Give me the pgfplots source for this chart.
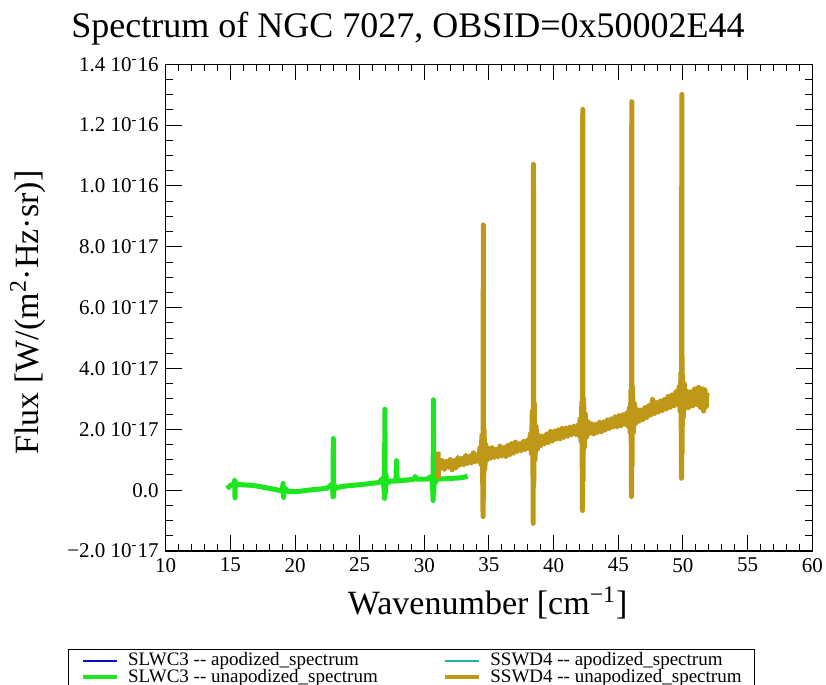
\documentclass[border=0pt]{standalone}
\usepackage{fontspec}
\setmainfont{Liberation Serif}
\usepackage{pgfplots}
\pgfplotsset{compat=1.18}
\definecolor{slwapo}{RGB}{10,10,200}
\definecolor{slwun}{RGB}{30,230,30}
\definecolor{sswapo}{RGB}{32,178,170}
\definecolor{sswun}{RGB}{192,152,24}
\newcommand{\ex}[2]{#1 10\textsuperscript{-}#2}
\begin{document}
\begin{tikzpicture}
\useasboundingbox (0,0) rectangle (413pt,-342.5pt);
\node[anchor=base, font=\fontsize{18}{20}\selectfont] at (204pt,-19pt) {Spectrum of NGC 7027, OBSID=0x50002E44};
\begin{axis}[
  at={(82.85pt,-275.5pt)}, anchor=south west,
  scale only axis, width=323.3pt, height=243.35pt,
  xmin=10, xmax=60, ymin=-2, ymax=14,
  xtick={10,15,...,60}, minor x tick num=4,
  ytick={-2,0,...,14}, minor y tick num=3,
  yticklabels={\ex{−2.0}{17},0.0,\ex{2.0}{17},\ex{4.0}{17},\ex{6.0}{17},\ex{8.0}{17},\ex{1.0}{16},\ex{1.2}{16},\ex{1.4}{16}},
  /pgf/number format/assume math mode=true,
  tick align=inside,
  major tick length=8pt, minor tick length=3.5pt,
  tick style={black, line width=0.5pt},
  axis line style={black, line width=0.6pt},
  ticklabel style={font=\fontsize{10.5}{12}\selectfont},
  xlabel={Wavenumber [cm\textsuperscript{−1}]},
  ylabel={Flux [W/(m\textsuperscript{2}·Hz·sr)]},
  every axis x label/.style={at={(axis description cs:0.498,-0.107)}, anchor=center, font=\fontsize{17}{19}\selectfont},
  every axis y label/.style={at={(axis description cs:-0.213,0.49)}, rotate=90, anchor=center, font=\fontsize{17}{19}\selectfont},
  legend columns=2, transpose legend,
  legend style={at={(axis description cs:-0.151,-0.202)}, anchor=north west, draw=black, line width=0.5pt,
    font=\fontsize{9.5}{9.5}\selectfont, inner xsep=6pt, inner ysep=1pt, row sep=-1pt,
    nodes={inner sep=0.5pt},
    /tikz/every odd column/.append style={column sep=4pt},
    /tikz/every even column/.append style={column sep=32pt}},
  legend cell align=left,
]
\addlegendimage{slwapo, line width=1pt}
\addlegendentry{SLWC3 -{}- apodized\_spectrum}
\addlegendimage{slwun, line width=2.2pt}
\addlegendentry{SLWC3 -{}- unapodized\_spectrum}
\addlegendimage{sswapo, line width=1pt}
\addlegendentry{SSWD4 -{}- apodized\_spectrum}
\addlegendimage{sswun, line width=2.2pt}
\addlegendentry{SSWD4 -{}- unapodized\_spectrum}
% SLWC3 unapodized (flux in units of 1e-17 W/(m2 Hz sr))
\addplot[slwun, line width=2.5pt, line join=round, forget plot] coordinates {
(14.75,0.05) (14.9,0.12) (15.1,0.18) (15.3,0.2) (15.33,0.32) (15.36,-0.25) (15.39,0.28) (15.5,0.2)
(15.8,0.18) (16.2,0.17) (16.6,0.16) (17.0,0.14) (17.5,0.1) (18.0,0.06) (18.5,0.02) (19.0,-0.03)
(19.08,0.22) (19.12,-0.24) (19.16,0.08) (19.5,-0.05) (20.0,-0.05) (20.5,-0.03) (21.0,0.0) (21.5,0.02)
(22.0,0.04) (22.5,0.07) (22.88,0.2) (22.92,-0.05) (22.94,-0.22) (22.96,1.70) (22.98,-0.2) (23.02,0.2) (23.08,0.05)
(23.5,0.11) (24.0,0.14) (24.5,0.16) (25.0,0.18) (25.5,0.2) (26.0,0.23) (26.5,0.25) (26.8,0.4)
(26.87,0.1) (26.92,-0.27) (26.95,2.66) (26.98,-0.1) (27.03,0.5) (27.1,0.22) (27.4,0.3) (27.8,0.3)
(27.85,0.97) (27.9,0.3) (28.3,0.32) (28.8,0.34) (29.2,0.36) (29.3,0.45) (29.4,0.36) (29.8,0.36)
(30.2,0.36) (30.55,0.45) (30.64,0.1) (30.68,-0.34) (30.7,2.97) (30.73,-0.1) (30.78,0.6) (30.85,0.25) (31.0,0.38)
(31.4,0.37) (31.8,0.38) (32.2,0.39) (32.6,0.4) (33.0,0.42) (33.35,0.46)
};
% SSWD4 unapodized
\addplot[sswun, line width=2.5pt, line join=round, forget plot] coordinates {
(31.06,1.27) (31.08,0.44) (31.15,1.0) (31.25,0.72) (31.4,0.98) (31.55,0.68) (31.7,0.95) (31.85,0.75)
(32.0,1.02) (32.15,0.67) (32.3,0.98) (32.45,0.73) (32.6,1.08) (32.75,0.82) (32.9,1.05) (33.05,0.83)
(33.2,1.15) (33.35,0.87) (33.5,1.13) (33.65,0.89) (33.8,1.23) (33.95,0.93) (34.1,1.18) (34.2,0.95)
(34.3,1.4) (34.38,0.85) (34.45,1.8) (34.51,0.5) (34.54,-0.87) (34.56,8.72) (34.58,-0.3) (34.62,2.0)
(34.68,0.7) (34.75,1.5) (34.85,1.0) (34.95,1.38)
(35.1,1.05) (35.25,1.39) (35.4,1.07) (35.55,1.35) (35.7,1.09) (35.85,1.45) (36.0,1.12) (36.15,1.41)
(36.3,1.11) (36.45,1.47) (36.6,1.17) (36.75,1.53) (36.9,1.22) (37.05,1.58) (37.2,1.27) (37.35,1.53)
(37.5,1.29) (37.65,1.61) (37.8,1.33) (37.95,1.65) (38.1,1.37)
(38.2,1.85) (38.28,1.2) (38.35,2.6) (38.4,0.65) (38.42,-1.09) (38.44,10.71) (38.46,0.2) (38.5,2.86)
(38.56,1.0) (38.64,2.1) (38.75,1.35) (38.85,1.8)
(39.0,1.47) (39.15,1.78) (39.3,1.52) (39.45,1.85) (39.6,1.57) (39.75,1.93) (39.9,1.62) (40.05,1.95)
(40.2,1.67) (40.35,1.99) (40.5,1.69) (40.65,2.03) (40.8,1.73) (40.95,2.05) (41.1,1.77) (41.25,2.08)
(41.4,1.82) (41.55,2.11) (41.7,1.83) (41.85,2.13)
(41.95,1.8) (42.05,2.35) (42.12,1.6) (42.18,2.9) (42.23,-0.67) (42.25,12.52) (42.27,0.3) (42.32,3.0)
(42.38,1.4) (42.45,2.5) (42.55,1.75) (42.65,2.25)
(42.8,1.87) (42.95,2.18) (43.1,1.85) (43.25,2.17) (43.4,1.89) (43.55,2.23) (43.7,1.92) (43.85,2.25)
(44.0,1.97) (44.15,2.31) (44.3,2.02) (44.45,2.35) (44.6,2.07) (44.75,2.41) (44.9,2.09) (45.05,2.45)
(45.2,2.12) (45.35,2.48) (45.5,2.17) (45.65,2.53)
(45.75,2.1) (45.85,2.7) (45.92,1.9) (45.98,3.3) (46.02,-0.21) (46.04,12.77) (46.06,0.8) (46.1,3.4)
(46.17,1.9) (46.25,2.85) (46.35,2.2) (46.45,2.65)
(46.6,2.27) (46.75,2.63) (46.9,2.32) (47.05,2.71) (47.2,2.39) (47.35,2.78) (47.5,2.47) (47.65,2.98)
(47.8,2.52) (47.95,2.88) (48.1,2.57) (48.25,2.93) (48.4,2.62) (48.55,2.98) (48.7,2.67) (48.85,3.08)
(49.0,2.72) (49.15,3.13) (49.3,2.77) (49.45,3.23) (49.6,2.82)
(49.7,3.4) (49.78,2.6) (49.84,3.85) (49.89,0.39) (49.91,13.01) (49.93,1.2) (49.97,3.8) (50.03,2.4)
(50.1,3.5) (50.2,2.7) (50.3,3.25)
(50.45,2.72) (50.6,3.23) (50.75,2.77) (50.9,3.33) (51.05,2.82) (51.2,3.38) (51.35,2.72) (51.5,3.33)
(51.6,2.6) (51.7,3.3) (51.8,2.75) (51.85,3.2)
};
\end{axis}
\end{tikzpicture}
\end{document}
